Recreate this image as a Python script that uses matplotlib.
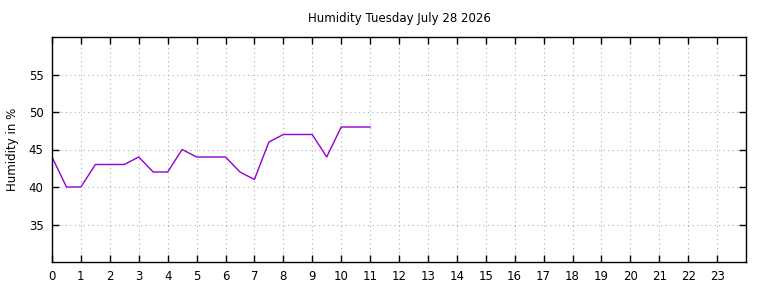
import matplotlib.pyplot as plt

hours = [0, 0.5, 1, 1.5, 2, 2.5, 3, 3.5, 4, 4.5, 5, 5.5, 6, 6.5, 7, 7.5,
         8, 8.5, 9, 9.5, 10, 10.5, 11]
humidity = [44, 40, 40, 43, 43, 43, 44, 42, 42, 45, 44, 44, 44, 42, 41, 46,
            47, 47, 47, 44, 48, 48, 48]
x_ticks = list(range(24))
y_ticks = [35, 40, 45, 50, 55]

fig = plt.figure(figsize=(7.68, 2.88), dpi=100)
ax = fig.add_axes([52 / 768, 1 - 262 / 288, 694 / 768, 225 / 288])

ax.plot(hours, humidity, color="#9400d3", linewidth=1)

ax.set_xlim(0, 24)
ax.set_ylim(30, 60)
ax.set_xticks(x_ticks)
ax.set_yticks(y_ticks)
ax.tick_params(direction="in", top=True, right=True, labeltop=False,
               labelright=False, length=5, width=1, labelsize=8.5, pad=6)
ax.grid(True, color="#b0b0b0", linestyle=(0, (1, 3)), linewidth=0.8)
for s in ax.spines.values():
    s.set_linewidth(1)

ax.set_title("Humidity Tuesday July 28 2026", fontsize=8.5, pad=11)
ax.set_ylabel("Humidity in %", fontsize=8.5, labelpad=7)

fig.savefig("out.png", dpi=100)
